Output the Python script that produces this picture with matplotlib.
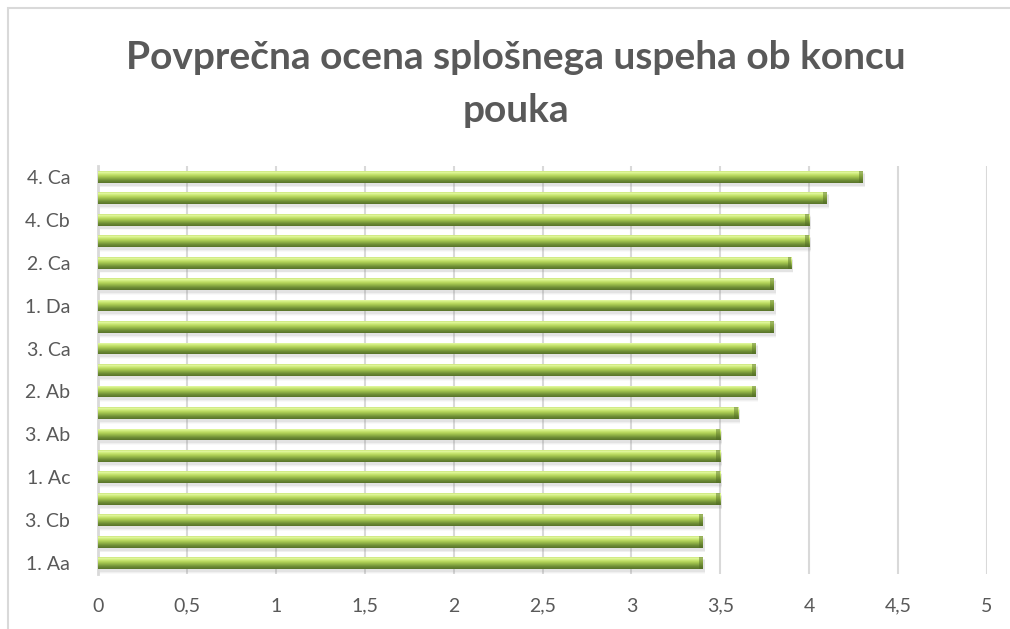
import numpy as np
import matplotlib
matplotlib.use("Agg")
import matplotlib.pyplot as plt
from matplotlib.colors import LinearSegmentedColormap
from matplotlib.patches import Rectangle
import matplotlib.transforms as mtransforms

# ---- data (bottom to top) ----
categories = ["1. Aa", "", "3. Cb", "", "1. Ac", "", "3. Ab", "", "2. Ab", "",
              "3. Ca", "", "1. Da", "", "2. Ca", "", "4. Cb", "", "4. Ca"]
values = [3.4, 3.4, 3.4, 3.5, 3.5, 3.5, 3.5, 3.6, 3.7, 3.7,
          3.7, 3.8, 3.8, 3.8, 3.9, 4.0, 4.0, 4.1, 4.3]
x_ticks = [0, 0.5, 1, 1.5, 2, 2.5, 3, 3.5, 4, 4.5, 5]
x_tick_labels = ["0", "0,5", "1", "1,5", "2", "2,5", "3", "3,5", "4", "4,5", "5"]
title_lines = ["Povprečna ocena splošnega uspeha ob koncu", "pouka"]

TEXT = "#595959"
GRID = "#d9d9d9"
FONT = ["Lato", "DejaVu Sans"]
plt.rcParams["font.family"] = FONT

fig = plt.figure(figsize=(10.10, 6.29), dpi=100)
fig.patch.set_facecolor("white")

# chart border
fig.patches.append(Rectangle((8 / 1010, -0.05), 1.2, 1 - 8 / 629 + 0.05,
                             transform=fig.transFigure, fill=False,
                             edgecolor=GRID, linewidth=1.5))

ax = fig.add_axes([98 / 1010, 55 / 629, 889 / 1010, 408 / 629])
ypos = np.arange(len(values))

# soft shadows
shadow_off = mtransforms.ScaledTranslation(2 / 100, -3 / 100, fig.dpi_scale_trans)
for k, a in [(0, 0.10), (1, 0.07), (2, 0.04)]:
    sh = ax.barh(ypos, values, height=0.55 + 0.08 * k, color="#7f7f7f",
                 alpha=a, zorder=2, linewidth=0)
    for p in sh:
        p.set_transform(ax.transData + shadow_off)

bars = ax.barh(ypos, values, height=0.55, color="#a5c64e", zorder=3,
               linewidth=0)

cmap = LinearSegmentedColormap.from_list(
    "bevel",
    [(0.0, "#587329"), (0.22, "#6f8e37"), (0.42, "#93b447"),
     (0.62, "#b6d65c"), (0.80, "#d2ee80"), (0.92, "#e6faa8"), (1.0, "#c3df6c")])
grad = np.linspace(0, 1, 64).reshape(-1, 1)
for p in bars:
    x0, y0, w, h = p.get_x(), p.get_y(), p.get_width(), p.get_height()
    im = ax.imshow(grad, cmap=cmap, origin="lower", aspect="auto",
                   extent=[x0, x0 + w, y0, y0 + h], zorder=4,
                   interpolation="bilinear")
    im.set_clip_path(p)
    end = Rectangle((x0 + w - 0.022, y0), 0.022, h, facecolor="#4f6a22",
                    alpha=0.45, zorder=5, linewidth=0)
    ax.add_patch(end)

ax.set_xlim(0, 5)
ax.set_ylim(-0.5, len(values) - 0.5)
ax.set_xticks(x_ticks)
ax.set_xticklabels(x_tick_labels)
ax.set_yticks(ypos)
ax.set_yticklabels(categories)
ax.tick_params(axis="both", length=0, labelsize=14, colors=TEXT)
ax.tick_params(axis="x", pad=17)
ax.tick_params(axis="y", pad=20)
ax.grid(axis="x", color=GRID, linewidth=1.5, zorder=0)
ax.set_axisbelow(True)
for s in ["top", "right", "bottom"]:
    ax.spines[s].set_visible(False)
ax.spines["left"].set_color(GRID)
ax.spines["left"].set_linewidth(2)

for line, base_px in zip(title_lines, [69, 122]):
    fig.text(516 / 1010, 1 - base_px / 629, line, ha="center", va="baseline",
             fontsize=28, fontweight="bold", color=TEXT)

fig.savefig("out.png", dpi=100, facecolor="white")
